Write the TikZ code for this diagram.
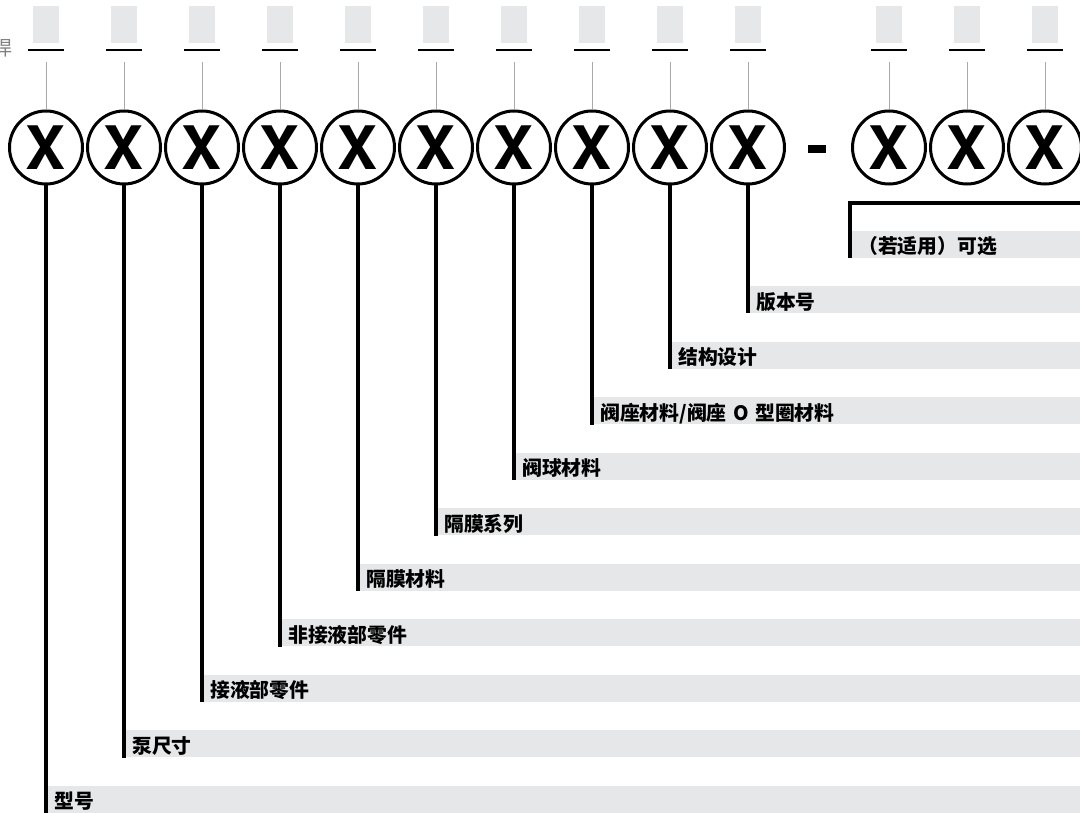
\documentclass[tikz,border=0pt]{standalone}
\usepackage{fontspec}
\newfontfamily\cjk{Noto Sans CJK SC}
\newfontfamily\heros{TeX Gyre Heros}
\definecolor{barfill}{HTML}{E6E7E8}
\definecolor{tickgray}{HTML}{A7A9AC}
\tikzset{
  digit/.style={circle, draw, line width=3pt, minimum size=73pt, inner sep=0pt,
    font=\heros\bfseries\fontsize{60}{60}\selectfont},
  slot/.style={fill=barfill, minimum width=26pt, minimum height=37pt, inner sep=0pt},
  lead/.style={line width=4pt},
  tick/.style={tickgray, line width=1pt},
  bar/.style={fill=barfill, anchor=south west, text width=1100pt, align=left,
    minimum height=27pt, inner xsep=8pt, inner ysep=0pt, text height=21pt, text depth=2pt,
    font=\cjk\bfseries\fontsize{19.8}{20}\selectfont}
}

\begin{document}
\begin{tikzpicture}[x=1pt,y=-1pt]
\useasboundingbox (0,0) rectangle (1080,813);
\node [gray, anchor=east, font=\cjk\fontsize{20}{20}\selectfont] (cut) at (16,48) {焊};
% code positions
\foreach \i/\x in {0/46,1/124,2/202,3/280,4/358,5/436,6/514,7/592,8/670,9/748,10/889,11/967,12/1045} {
  \node [slot] (s\i) at (\x,24.5) {};
  \draw [line width=2pt] (\x-18,50) -- (\x+18,50);
  \coordinate (u\i) at (\x,62);
  \node [digit] (c\i) at (\x,147.5) {X};
  \draw [tick] (u\i) -- (c\i.north);
}
\fill (808,145) rectangle (826,153);
% bars
\node [bar] (l0) at (46,813) {型号};
\node [bar] (l1) at (124,757.5) {泵尺寸};
\node [bar] (l2) at (202,702) {接液部零件};
\node [bar] (l3) at (280,646.5) {非接液部零件};
\node [bar] (l4) at (358,591) {隔膜材料};
\node [bar] (l5) at (436,535.5) {隔膜系列};
\node [bar] (l6) at (514,480) {阀球材料};
\node [bar] (l7) at (592,424.5) {阀座材料/阀座 O 型圈材料};
\node [bar] (l8) at (670,369) {结构设计};
\node [bar] (l9) at (748,313.5) {版本号};
\node [bar] (l10) at (850,258) {（若适用）可选};
\foreach \i in {0,...,9}
  \draw [lead] (c\i.south) -- (c\i.south |- l\i.south);
\coordinate (optend) at (1090,203);
\draw [lead] (l10.south west) |- (optend);
\end{tikzpicture}
\end{document}
